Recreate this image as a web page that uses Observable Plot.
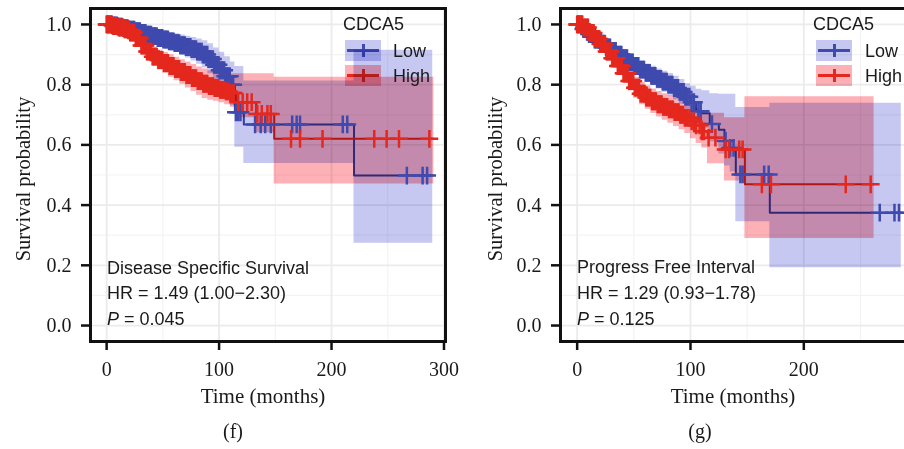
<!DOCTYPE html>
<html><head><meta charset="utf-8">
<script src="https://cdn.jsdelivr.net/npm/d3@7"></script>
<script src="https://cdn.jsdelivr.net/npm/@observablehq/plot@0.6"></script>
<style>
html,body{margin:0;padding:0;background:#fff;}
body{width:904px;height:449px;overflow:hidden;position:relative;}
svg{max-width:none !important;}
.abs{position:absolute;white-space:nowrap;line-height:1;}
.serif{font-family:"Liberation Serif","Times New Roman",serif;color:#1a1a1a;}
.sans{font-family:"Liberation Sans",Arial,sans-serif;color:#1a1a1a;font-size:18px;}
.key{position:absolute;width:36px;height:21px;mix-blend-mode:multiply;}
.kh{position:absolute;left:2px;right:2px;top:9px;height:2.5px;}
.kv{position:absolute;left:17px;width:2.5px;top:4px;height:13px;}
</style></head><body>
<div id="f" class="abs" style="left:0;top:0;width:460px;height:380px"></div>
<div id="g" class="abs" style="left:460px;top:0;width:480px;height:380px"></div>
<script>
// ---------- data ----------
const groups = ["Low", "High"];
const legendTitle = "CDCA5";
const xTicksF = [0, 100, 200, 300];
const xTicksG = [0, 100, 200];
const xGrid = [0, 100, 200, 300];
const xMinor = [50, 150, 250];
const yTicks = [0, 0.2, 0.4, 0.6, 0.8, 1.0];
const yMinor = [0.1, 0.3, 0.5, 0.7, 0.9];
const yTickLabels = ["0.0", "0.2", "0.4", "0.6", "0.8", "1.0"];

// Panel (f) Disease Specific Survival
const fLowT  = [0,5,10,15,20,25,30,35,40,45,50,55,60,65,70,75,80,85,90,95,100,105,110,114,122,220,290];
const fLowS  = [1.0,.997,.993,.988,.983,.978,.972,.966,.961,.955,.950,.944,.938,.931,.925,.918,.910,.900,.885,.866,.848,.828,.800,.708,.668,.498,.498];
const fLowLo = [1.0,.991,.984,.976,.969,.962,.954,.946,.939,.931,.924,.916,.907,.898,.889,.879,.868,.855,.836,.813,.790,.764,.730,.592,.538,.273,.273];
const fLowHi = [1.0,1.0,1.0,1.0,.997,.994,.990,.986,.983,.979,.976,.972,.969,.965,.961,.957,.952,.946,.936,.922,.908,.893,.875,.860,.812,.914,.914];
const fLowCens = [0.5,1.5,2.5,4,5,6.5,7.5,9,10,11,12.5,13.5,15,16,17.5,18.5,20,21,22,23.5,24.5,26,27,28.5,29.5,31,32,33.5,34.5,36,37,38,39.5,40.5,42,43,44.5,45.5,47,48,49.5,50.5,52,53,54.5,55.5,57,58,59.5,60.5,62,63,64.5,65.5,67,68,69.5,70.5,72,73,74.5,75.5,77,78,79.5,80.5,82,83,84.5,85.5,87,88,89.5,90.5,92,93,94.5,95.5,97,98,99.5,100.5,102,103,104.5,105.5,107,108,109.5,111,112.5,115,117,119,132,137,141,146,165,169,172,210,214,267,281,285];

const fHighT  = [0,5,10,15,20,25,30,35,40,45,50,55,60,65,70,75,80,85,90,95,100,105,110,115,133,149,291];
const fHighS  = [1.0,.995,.990,.984,.973,.955,.930,.910,.893,.882,.872,.862,.852,.842,.832,.822,.812,.803,.795,.789,.783,.778,.772,.742,.703,.620,.620];
const fHighLo = [1.0,.988,.978,.969,.954,.932,.904,.881,.862,.849,.837,.825,.813,.801,.789,.777,.765,.754,.748,.745,.740,.733,.725,.690,.640,.470,.470];
const fHighHi = [1.0,1.0,1.0,.998,.991,.978,.956,.939,.924,.915,.907,.899,.891,.883,.875,.867,.859,.852,.846,.842,.838,.836,.836,.836,.836,.825,.825];
const fHighCens = [0,1,2,3.5,4.5,6,7,8.5,9.5,11,12,13.5,14.5,16,17,18.5,19.5,21,22,23.5,24.5,26,27,28.5,29.5,31,32,33.5,34.5,36,37,38.5,39.5,41,42,43.5,44.5,46,47,48.5,49.5,51,52,53.5,54.5,56,57,58.5,59.5,61,62,63.5,64.5,66,67,68.5,69.5,71,72,73.5,74.5,76,77,78.5,79.5,81,82,83.5,84.5,86,87,88.5,89.5,91,92,93.5,94.5,96,97,98.5,99.5,101,102,103.5,104.5,106,107,108.5,110,111.5,113,117,121,125,129,134,138,143,146,164,172,192,238,249,260,287];

// Panel (g) Progress Free Interval
const gLowT  = [0,5,10,15,20,25,30,35,40,45,50,55,60,65,70,75,80,85,90,95,100,105,110,117,125,130,135,140,170,286];
const gLowS  = [1.0,.985,.968,.950,.936,.924,.912,.900,.888,.874,.862,.850,.839,.829,.819,.810,.800,.789,.776,.760,.742,.712,.705,.669,.650,.613,.590,.502,.375,.375];
const gLowLo = [1.0,.977,.956,.936,.919,.905,.892,.878,.865,.849,.835,.822,.809,.797,.786,.775,.763,.750,.735,.717,.697,.665,.655,.610,.570,.530,.510,.345,.192,.192];
const gLowHi = [1.0,.993,.980,.964,.953,.943,.932,.922,.911,.899,.889,.878,.869,.861,.852,.845,.837,.828,.817,.803,.795,.785,.780,.770,.768,.768,.768,.724,.738,.738];
const gLowCens = [0.5,1.5,3,4,5.5,6.5,8,9,10.5,11.5,13,14,15.5,16.5,18,19,20.5,21.5,23,24,25.5,26.5,28,29,30.5,31.5,33,34,35.5,36.5,38,39,40.5,41.5,43,44,45.5,46.5,48,49,50.5,51.5,53,54,55.5,56.5,58,59,60.5,61.5,63,64,65.5,66.5,68,69,70.5,71.5,73,74,75.5,76.5,78,79,80.5,81.5,83,84,85.5,86.5,88,89,90.5,91.5,93,94,95.5,97,99,101,103,107,109,119,131,135,138,144,146,165,169,267,280,284];

const gHighT  = [0,5,10,15,20,25,30,35,40,45,50,55,60,65,70,75,80,85,90,95,100,105,110,115,130,148,262];
const gHighS  = [1.0,.990,.972,.952,.935,.910,.888,.862,.838,.812,.790,.770,.757,.745,.735,.726,.718,.709,.700,.690,.678,.665,.645,.624,.585,.469,.469];
const gHighLo = [1.0,.982,.960,.936,.915,.887,.862,.833,.807,.779,.755,.733,.718,.704,.693,.682,.672,.661,.650,.638,.620,.605,.590,.537,.480,.289,.289];
const gHighHi = [1.0,.998,.985,.968,.955,.933,.914,.891,.869,.845,.825,.807,.796,.786,.777,.770,.764,.757,.750,.742,.732,.721,.710,.705,.690,.760,.760];
const gHighCens = [0,1,2,3.5,4.5,6,7,8.5,9.5,11,12,13.5,14.5,16,17,18.5,19.5,21,22,23.5,24.5,26,27,28.5,29.5,31,32,33.5,34.5,36,37,38.5,39.5,41,42,43.5,44.5,46,47,48.5,49.5,51,52,53.5,54.5,56,57,58.5,59.5,61,62,63.5,64.5,66,67,68.5,69.5,71,72,73.5,74.5,76,77,78.5,79.5,81,82,83.5,84.5,86,87,88.5,89.5,91,92,93.5,95,97,99,101,103,105,108,110,112,116,122,131,134,143,146,163,171,237,259];

const panelTexts = {
  f: {title: "Disease Specific Survival", hr: "HR = 1.49 (1.00\u22122.30)", p: "= 0.045", tag: "(f)"},
  g: {title: "Progress Free Interval", hr: "HR = 1.29 (0.93\u22121.78)", p: "= 0.125", tag: "(g)"}
};

// ---------- styles ----------
const C = {Low: "#3f4aae", High: "#e4281e"};
const CF = {Low: "#c6c8f2", High: "#fdb0b6"};

function stepAt(T, S, t) { let v = S[0]; for (let i = 0; i < T.length; i++) { if (T[i] <= t) v = S[i]; else break; } return v; }
function rows(T, S, Lo, Hi) { return T.map((t, i) => ({t, s: S[i], lo: Lo[i], hi: Hi[i]})); }
function cens(T, S, Cs) { return Cs.map(t => ({t, s: stepAt(T, S, t)})); }

function panel(cfg) {
  const low = rows(...cfg.low), high = rows(...cfg.high);
  const lowC = cens(cfg.low[0], cfg.low[1], cfg.lowC), highC = cens(cfg.high[0], cfg.high[1], cfg.highC);
  return Plot.plot({
    width: cfg.width, height: 380,
    marginLeft: cfg.ml, marginRight: cfg.mr, marginTop: 8, marginBottom: 39,
    x: {domain: cfg.xd}, y: {domain: [-0.053, 1.053]},
    style: {fontFamily: '"Liberation Serif", "Times New Roman", serif', fontSize: "20px", color: "#1a1a1a", background: "transparent", overflow: "visible"},
    marks: [
      Plot.ruleX(xMinor, {stroke: "#f3f3f3", strokeWidth: 1.2}),
      Plot.ruleY(yMinor, {stroke: "#f3f3f3", strokeWidth: 1.2}),
      Plot.ruleX(xGrid, {stroke: "#ebebeb", strokeWidth: 1.8}),
      Plot.ruleY(yTicks, {stroke: "#ebebeb", strokeWidth: 1.8}),
      Plot.line(low, {x: "t", y: "s", curve: "step-after", stroke: C.Low, strokeWidth: 2}),
      Plot.line(high, {x: "t", y: "s", curve: "step-after", stroke: C.High, strokeWidth: 2}),
      Plot.areaY(low, {x: "t", y1: "lo", y2: "hi", curve: "step-after", fill: CF.Low, mixBlendMode: "multiply"}),
      Plot.areaY(high, {x: "t", y1: "lo", y2: "hi", curve: "step-after", fill: CF.High, mixBlendMode: "multiply"}),
      Plot.dot(lowC, {x: "t", y: "s", symbol: "plus", r: 5.8, stroke: C.Low, strokeWidth: 2.5}),
      Plot.dot(highC, {x: "t", y: "s", symbol: "plus", r: 5.8, stroke: C.High, strokeWidth: 2.5}),
      Plot.frame({stroke: "#111", strokeWidth: 3}),
      Plot.axisX(cfg.xt, {tickSize: 9, tickPadding: 11, strokeWidth: 2.5, stroke: "#111", fontSize: 20, label: null, tickFormat: d => String(d)}),
      Plot.axisY(yTicks, {tickSize: 9, tickPadding: 10, strokeWidth: 2.5, stroke: "#111", fontSize: 20, label: null, tickFormat: d => yTickLabels[yTicks.indexOf(d)]})
    ]
  });
}

document.getElementById("f").append(panel({
  width: 460, ml: 90, mr: 15, xd: [-14.35, 301.35], xt: xTicksF,
  low: [fLowT, fLowS, fLowLo, fLowHi], high: [fHighT, fHighS, fHighLo, fHighHi],
  lowC: fLowCens, highC: fHighCens
}));
document.getElementById("g").append(panel({
  width: 480, ml: 100, mr: 13.5, xd: [-14.7, 308.7], xt: xTicksG,
  low: [gLowT, gLowS, gLowLo, gLowHi], high: [gHighT, gHighS, gHighLo, gHighHi],
  lowC: gLowCens, highC: gHighCens
}));

// ---------- text & legends ----------
function addDiv(html, cls, css) {
  const d = document.createElement("div");
  d.className = "abs " + cls;
  d.innerHTML = html;
  Object.assign(d.style, css);
  document.body.append(d);
  return d;
}
function addPanelText(key, o) {
  const t = panelTexts[key];
  addDiv("Survival probability", "serif", {fontSize: "20.5px", left: o.ylx + "px", top: "179px", transform: "translate(-50%,-50%) rotate(-90deg)"});
  addDiv("Time (months)", "serif", {fontSize: "21px", left: o.xlx + "px", top: "396px", transform: "translate(-50%,-50%)"});
  addDiv(t.tag, "serif", {fontSize: "20px", left: o.tagx + "px", top: "431px", transform: "translate(-50%,-50%)"});
  addDiv(t.title, "sans", {left: o.ax + "px", top: (o.ay1 - 9) + "px"});
  addDiv(t.hr, "sans", {left: o.ax + "px", top: (293.3 - 9) + "px"});
  addDiv("<i>P</i> " + t.p, "sans", {left: o.ax + "px", top: (318.8 - 9) + "px"});
  addDiv(legendTitle, "sans", {left: o.lgx + "px", top: (24.3 - 9) + "px"});
  groups.forEach((g, i) => {
    const top = [40, 65][i];
    const k = document.createElement("div");
    k.className = "key";
    Object.assign(k.style, {left: o.kx + "px", top: top + "px", background: CF[g]});
    k.innerHTML = `<div class="kh" style="background:${C[g]}"></div><div class="kv" style="background:${C[g]}"></div>`;
    document.body.append(k);
    addDiv(g, "sans", {left: o.ltx + "px", top: ([51.3, 75.8][i] - 9) + "px"});
  });
}
addPanelText("f", {ylx: 23, xlx: 263, tagx: 233, ax: 107, ay1: 268, lgx: 343, kx: 345, ltx: 393});
addPanelText("g", {ylx: 495, xlx: 733, tagx: 700, ax: 577, ay1: 267, lgx: 813, kx: 816, ltx: 865});
</script>
</body></html>
